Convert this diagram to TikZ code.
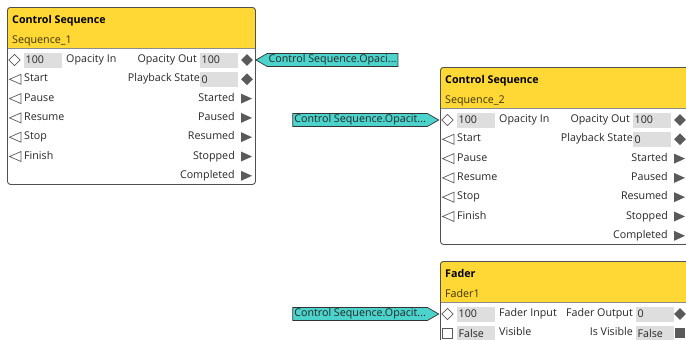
\documentclass[tikz,border=0pt]{standalone}
\usepackage{fontspec}
\setmainfont{Open Sans}
\usetikzlibrary{shapes.geometric,shapes.symbols}
\definecolor{hdrcol}{HTML}{FFD836}
\definecolor{framecol}{HTML}{505050}
\definecolor{valgray}{HTML}{DEDEDE}
\definecolor{iconcol}{HTML}{5A5A5A}
\definecolor{tagcol}{HTML}{4CD3CB}
\definecolor{subcol}{HTML}{3D3300}
\tikzset{
  lbl/.style={inner sep=0pt, font=\fontsize{10.7}{12}\selectfont, text=black!85},
  lblw/.style={lbl, anchor=mid west},
  lble/.style={lbl, anchor=mid east},
  ttl/.style={inner sep=0pt, anchor=mid west, font=\fontsize{10.7}{12}\selectfont\bfseries, text=black},
  sub/.style={inner sep=0pt, anchor=mid west, font=\fontsize{10.7}{12}\selectfont, text=subcol},
  valbox/.style={lbl, fill=valgray, anchor=west, text width=35pt, align=left, inner xsep=1.5pt, minimum height=15pt},
  indiam/.style={diamond, draw=iconcol, fill=white, line width=0.7pt, minimum size=11.5pt, inner sep=0pt},
  outdiam/.style={diamond, fill=iconcol, minimum size=12pt, inner sep=0pt},
  inbox/.style={rectangle, draw=iconcol, fill=white, line width=0.7pt, minimum size=9.5pt, inner sep=0pt},
  outbox/.style={rectangle, fill=iconcol, minimum size=10pt, inner sep=0pt},
  intristyle/.style={draw=iconcol, fill=white, line width=0.7pt, line join=miter},
  outtristyle/.style={fill=iconcol},
  frame/.style={draw=framecol, line width=0.9pt, rounded corners=3pt, anchor=north west, inner sep=0pt},
  tag/.style={signal, draw=black!80, fill=tagcol, line width=0.7pt, signal pointer angle=60, inner xsep=1.5pt, inner ysep=0pt, minimum height=13pt, font=\fontsize{10.7}{12}\selectfont, text=black!85}
}
\newcommand\intri[2]{% name, y
  \coordinate (#1) at (8,#2);
  \draw[intristyle] ([shift={(6,-5)}]#1) -- ([shift={(-5.5,0)}]#1) -- ([shift={(6,5)}]#1) -- cycle;
}
\newcommand\outtri[2]{% name, y
  \coordinate (#1) at (239.5,#2);
  \fill[outtristyle] ([shift={(-5.5,-5)}]#1) -- ([shift={(5.5,0)}]#1) -- ([shift={(-5.5,5)}]#1) -- cycle;
}
\newcommand\blockhead[4]{% name, height, title, subtitle
  \fill[hdrcol] (0,41) [rounded corners=3pt] -- (0,0) -- (248,0) [sharp corners] -- (248,41) -- cycle;
  \draw[black!45, line width=0.6pt] (0,41) -- (248,41);
  \node[frame, minimum width=248pt, minimum height=#2] (#1) at (0,0) {};
  \node[ttl] (#1title) at (5,13.5) {#3};
  \node[sub] (#1sub) at (5,34) {#4};
}
\newcommand\csblock[2]{% name, subtitle
  \blockhead{#1}{177pt}{Control Sequence}{#2}
  % row 0
  \node[indiam] (#1in) at (7.5,53) {};
  \node[valbox] (#1inval) at (17,53) {100};
  \node[lblw] at (59,53) {Opacity In};
  \node[lble] at (190,53) {Opacity Out};
  \node[valbox] (#1outval) at (193,53) {100};
  \node[outdiam] (#1out) at (240,53) {};
  % row 1
  \intri{#1start}{72.3}
  \node[lblw] at (17,72.3) {Start};
  \node[valbox] (#1stval) at (193,72.3) {0};
  \node[lble] at (193,72.3) {Playback State};
  \node[outdiam] (#1state) at (240,72.3) {};
  % rows 2-6
  \intri{#1pause}{91.6}
  \node[lblw] at (17,91.6) {Pause};
  \intri{#1resume}{110.9}
  \node[lblw] at (17,110.9) {Resume};
  \intri{#1stop}{130.2}
  \node[lblw] at (17,130.2) {Stop};
  \intri{#1finish}{149.5}
  \node[lblw] at (17,149.5) {Finish};
  \node[lble] at (228,91.6) {Started};
  \outtri{#1started}{91.6}
  \node[lble] at (228,110.9) {Paused};
  \outtri{#1paused}{110.9}
  \node[lble] at (228,130.2) {Resumed};
  \outtri{#1resumed}{130.2}
  \node[lble] at (228,149.5) {Stopped};
  \outtri{#1stopped}{149.5}
  \node[lble] at (228,168.8) {Completed};
  \outtri{#1completed}{168.8}
}
\begin{document}
\begin{tikzpicture}[x=1pt,y=-1pt]
\useasboundingbox (0,0) rectangle (686,340);
\clip (0,0) rectangle (686,340);
\begin{scope}[shift={(7,7)}]
  \csblock{sa}{Sequence\_1}
\end{scope}
\begin{scope}[shift={(440,67)}]
  \csblock{sb}{Sequence\_2}
\end{scope}
\begin{scope}[shift={(440,261)}]
  \blockhead{fa}{120pt}{Fader}{Fader1}
  \node[indiam] (fain) at (7.5,53) {};
  \node[valbox] (fainval) at (17,53) {100};
  \node[lblw] at (59,53) {Fader Input};
  \node[lble] at (193,53) {Fader Output};
  \node[valbox] (faoutval) at (196,53) {0};
  \node[outdiam] (faout) at (240,53) {};
  \node[inbox] (favis) at (7.5,72.3) {};
  \node[valbox] (favisval) at (17,72.3) {False};
  \node[lblw] at (59,72.3) {Visible};
  \node[lble] at (193,72.3) {Is Visible};
  \node[valbox] (faisval) at (196,72.3) {False};
  \node[outbox] (faisvis) at (240,72.3) {};
\end{scope}
% tags
\node[tag, signal to=west, anchor=west] (t1) at ([xshift=2pt]saout.east) {Control Sequence.Opaci...};
\node[tag, signal to=east, anchor=east] (t2) at ([xshift=-2pt]sbin.west) {Control Sequence.Opacit...};
\node[tag, signal to=east, anchor=east] (t3) at ([xshift=-2pt]fain.west) {Control Sequence.Opacit...};
\end{tikzpicture}
\end{document}
